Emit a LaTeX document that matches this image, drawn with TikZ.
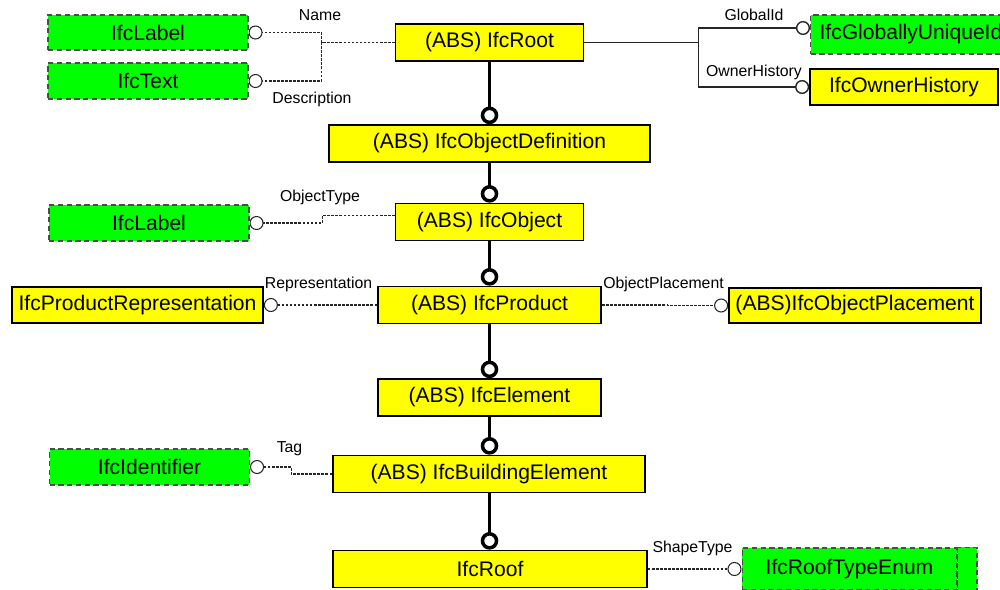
\documentclass[tikz,border=0pt]{standalone}
\usepackage{fontspec}
\setmainfont{Liberation Sans}
\usetikzlibrary{arrows.meta}
\definecolor{entyellow}{RGB}{255,255,0}
\definecolor{typgreen}{RGB}{0,255,0}

\begin{document}
\begin{tikzpicture}[x=0.02cm,y=-0.02cm]
\tikzstyle{ent}= [rectangle,draw,line width=1pt,fill=entyellow,minimum height=0.74cm,inner sep=0pt,font=\fontsize{12}{14}\selectfont]
\tikzstyle{typ}= [rectangle,draw=black!70,densely dashed,line width=0.6pt,fill=typgreen,minimum height=0.72cm,inner sep=0pt,font=\fontsize{12}{14}\selectfont]
\tikzstyle{inh}= [-{Circle[open,fill=white,length=10pt]},line width=2pt]
\tikzstyle{att}= [-{Circle[open,fill=white,length=8pt]},dash pattern=on 1.5pt off 0.8pt,line width=0.6pt,black!85]
\tikzstyle{attsolid}= [att,solid,line width=0.8pt]
\tikzstyle{lbl}= [inner sep=0pt,font=\fontsize{9}{10}\selectfont]

\clip (0,0) rectangle (1000,589);

\path
	(489.5, 42.5) node[ent,minimum width=3.76cm] (root) {(ABS) IfcRoot}
	(489.5,143.5) node[ent,minimum width=6.42cm] (objdef) {(ABS) IfcObjectDefinition}
	(489.5,222.0) node[ent,minimum width=3.76cm] (obj) {(ABS) IfcObject}
	(489.5,305.0) node[ent,minimum width=4.46cm] (prod) {(ABS) IfcProduct}
	(489.5,397.5) node[ent,minimum width=4.46cm] (elem) {(ABS) IfcElement}
	(489.0,474.0) node[ent,minimum width=6.24cm] (bldelem) {(ABS) IfcBuildingElement}
	(490.0,569.0) node[ent,minimum width=6.28cm] (roof) {IfcRoof}
	% left side types
	(148.0, 32.5) node[typ,minimum width=4cm,minimum height=0.70cm] (label1) {IfcLabel}
	(148.0, 81.0) node[typ,minimum width=4cm] (text) {IfcText}
	(149.0,223.0) node[typ,minimum width=4cm] (label2) {IfcLabel}
	(137.5,305.0) node[ent,minimum width=5.02cm,minimum height=0.72cm] (prodrep) {IfcProductRepresentation}
	(149.5,467.0) node[typ,minimum width=4cm] (ident) {IfcIdentifier}
	% right side types
	(810.0, 34.5) node[typ,anchor=west,minimum height=0.78cm,text width=3.9cm,inner xsep=0.18cm,align=left] (guid) {IfcGloballyUniqueId}
	(904.0, 87.0) node[ent,minimum width=3.76cm,minimum height=0.72cm] (ownhist) {IfcOwnerHistory}
	(855.0,305.5) node[ent,minimum width=5.04cm,minimum height=0.70cm] (objplace) {(ABS)IfcObjectPlacement}
	(849.5,569.0) node[typ,minimum width=4.3cm,minimum height=0.84cm] (rooftype) {IfcRoofTypeEnum}
;
\draw[typ] (rooftype.north east) rectangle (977,600);

% attribute names
\path
	(320.0, 15.0) node[lbl] (nname) {Name}
	(312.0, 99.0) node[lbl] (ndescr) {Description}
	(754.0, 15.0) node[lbl] (nguid) {GlobalId}
	(754.0, 72.0) node[lbl] (nownhist) {OwnerHistory}
	(320.0,197.0) node[lbl] (nobjtype) {ObjectType}
	(318.5,284.0) node[lbl] (nrep) {Representation}
	(663.5,284.0) node[lbl] (nplace) {ObjectPlacement}
	(289.5,449.0) node[lbl] (ntag) {Tag}
	(692.5,548.0) node[lbl] (nshape) {ShapeType}
;

% inheritance
\draw[inh] (root.south) -- (objdef.north);
\draw[inh] (objdef.south) -- (obj.north);
\draw[inh] (obj.south) -- (prod.north);
\draw[inh] (prod.south) -- (elem.north);
\draw[inh] (elem.south) -- (elem.south |- bldelem.north);
\draw[inh] (elem.south |- bldelem.south) -- (elem.south |- roof.north);

% attributes
\draw[att] (root.west) -- ++(-73,0) |- (label1.east);
\draw[att] (root.west) -- ++(-73,0) |- (text.east);
\draw[attsolid] (root.east) -- ++(114,0) |- ([yshift=0.13cm]guid.west);
\draw[attsolid] (root.east) -- ++(114,0) |- (ownhist.west);
\draw[att] ([yshift=0.13cm]obj.west) -- ++(-72,0) |- (label2.east);
\draw[att] (prod.west) -- ++(-58,0) |- (prodrep.east);
\draw[att] (prod.east) -- ++(66,0) |- (objplace.west);
\draw[att] (bldelem.west) -- ++(-41,0) |- (ident.east);
\draw[att] (roof.east) -- (rooftype.west);
\end{tikzpicture}
\end{document}
